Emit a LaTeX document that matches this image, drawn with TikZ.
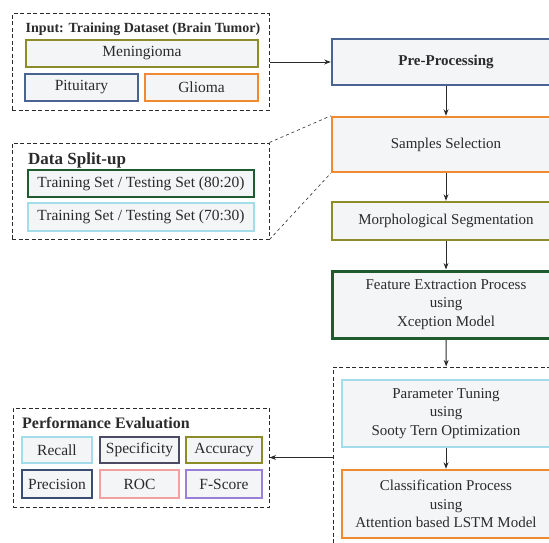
\documentclass[tikz,border=0pt]{standalone}
\usepackage{fontspec}
\setmainfont{Liberation Serif}
\definecolor{cnavy}{HTML}{4A6491}
\definecolor{cdeep}{HTML}{3B4E72}
\definecolor{colive}{HTML}{8C8C28}
\definecolor{corange}{HTML}{F08A30}
\definecolor{cgreen}{HTML}{1F5B2F}
\definecolor{clblue}{HTML}{A5DCEA}
\definecolor{cslate}{HTML}{4B4B66}
\definecolor{cpink}{HTML}{F2A0A0}
\definecolor{cpurple}{HTML}{9A80D8}
\definecolor{soft}{HTML}{F4F5F7}
\definecolor{ink}{HTML}{2B2B2B}
\usetikzlibrary{arrows.meta,positioning}
\tikzset{
  box/.style={line width=2.4pt,fill=soft,align=center,inner sep=2pt,
              font=\fontsize{15.5}{18.5}\selectfont,text=ink},
  flow/.style={box,font=\fontsize{15}{18.5}\selectfont},
  grp/.style={draw=ink,line width=1pt,dash pattern=on 4pt off 2.5pt},
  ttl/.style={font=\fontsize{16.5}{18}\selectfont\bfseries,inner sep=0pt,text=ink},
  arr/.style={-{Stealth[length=2.3mm]},line width=0.9pt,ink},
  lnk/.style={dashed,line width=0.6pt,ink}
}

\begin{document}
\begin{tikzpicture}[x=1pt,y=-1pt]
    \useasboundingbox (0,0) rectangle (549,543);
    % input dataset
    \node[grp,minimum width=257pt,minimum height=96pt] (inbox) at (140.5,62) {};
    \node[ttl,font=\fontsize{14}{16}\selectfont\bfseries] (intitle) at (143,29) {Input: Training Dataset (Brain Tumor)};
    \node[box,draw=colive,minimum width=232pt,minimum height=27pt] (menin) at (142,53.5) {Meningioma};
    \node[box,draw=cnavy,minimum width=113pt,minimum height=27pt] (pitu) at (81.5,87.5) {Pituitary};
    \node[box,draw=corange,minimum width=113pt,minimum height=27pt] (glioma) at (201.5,87.5) {Glioma};
    % data split
    \node[grp,minimum width=257pt,minimum height=96pt] (split) at (140.5,191) {};
    \node[ttl,font=\fontsize{17}{18}\selectfont\bfseries,anchor=west] (splittitle) at (28,160) {Data Split-up};
    \node[box,draw=cgreen,minimum width=226pt,minimum height=27pt] (s80) at (141,183.5) {Training Set / Testing Set (80:20)};
    \node[box,draw=clblue,minimum width=226pt,minimum height=28pt] (s70) at (141,217) {Training Set / Testing Set (70:30)};
    % main flow
    \node[flow,draw=cnavy,font=\fontsize{15}{18}\selectfont\bfseries,minimum width=228pt,minimum height=46pt] (pre) at (446,62) {Pre-Processing};
    \node[flow,draw=corange,minimum width=228pt,minimum height=55pt] (samples) at (446,144.5) {Samples Selection};
    \node[flow,draw=colive,minimum width=228pt,minimum height=38pt] (morph) at (446,221) {Morphological Segmentation};
    \node[flow,draw=cgreen,line width=3pt,minimum width=228pt,minimum height=67pt] (feat) at (446,304.5) {Feature Extraction Process\\using\\Xception Model};
    \node[grp,minimum width=227pt,minimum height=193pt] (clsbox) at (446.5,463.5) {};
    \node[flow,draw=clblue,minimum width=208pt,minimum height=67pt] (param) at (446,413.5) {Parameter Tuning\\using\\Sooty Tern Optimization};
    \node[flow,draw=corange,minimum width=208pt,minimum height=68pt] (classif) at (446,504) {Classification Process\\using\\Attention based LSTM Model};
    % performance evaluation
    \node[grp,minimum width=256pt,minimum height=99pt] (perf) at (141,457.5) {};
    \node[ttl,font=\fontsize{16}{18}\selectfont\bfseries,anchor=west] (perftitle) at (22,423) {Performance Evaluation};
    \node[box,draw=clblue,minimum width=70pt,minimum height=26pt] (recall) at (57,450) {Recall};
    \node[box,draw=cslate,minimum width=79pt,minimum height=26pt] (spec) at (139.5,450) {Specificity};
    \node[box,draw=colive,minimum width=76pt,minimum height=26pt] (acc) at (224,450) {Accuracy};
    \node[box,draw=cdeep,minimum width=70pt,minimum height=28pt] (prec) at (57,484) {Precision};
    \node[box,draw=cpink,minimum width=79pt,minimum height=28pt] (roc) at (139.5,484) {ROC};
    \node[box,draw=cpurple,minimum width=76pt,minimum height=28pt] (fscore) at (224,484) {F-Score};
    % connectors
    \draw[arr] (inbox.east) -- (pre.west);
    \foreach \a/\b in {pre/samples,samples/morph,morph/feat,feat/clsbox,param/classif}
      \draw[arr] (\a) -- (\b);
    \draw[arr] (perf.east -| clsbox.west) -- (perf.east);
    \draw[lnk] (split.north east) -- (samples.north west);
    \draw[lnk] (split.south east) -- (samples.south west);
\end{tikzpicture}
\end{document}
